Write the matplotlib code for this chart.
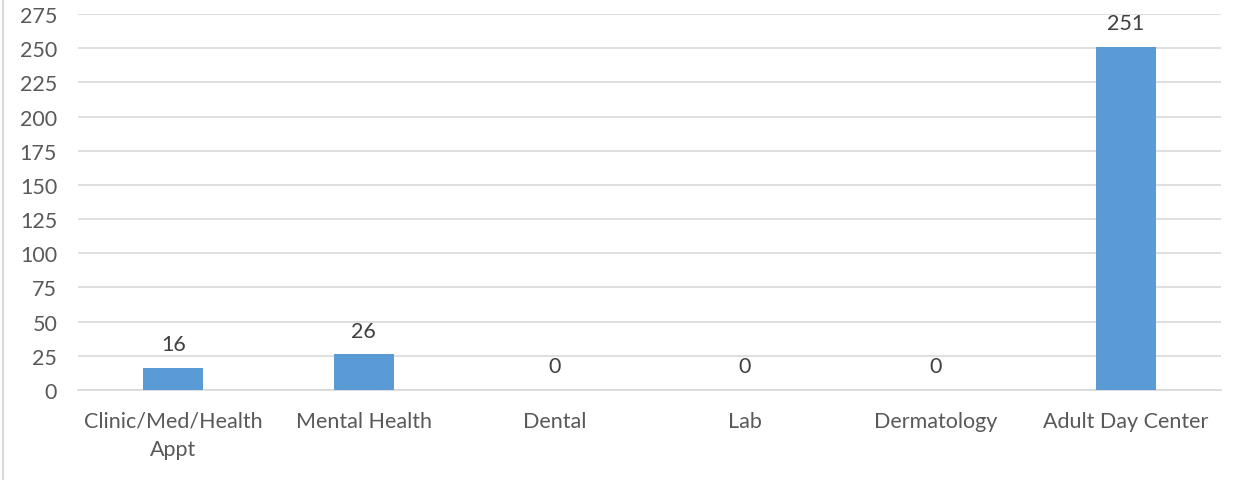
import matplotlib
matplotlib.use("Agg")
import matplotlib.pyplot as plt
import numpy as np
from matplotlib.lines import Line2D

# Data
categories = ["Clinic/Med/Health\nAppt", "Mental Health", "Dental", "Lab",
              "Dermatology", "Adult Day Center"]
values = [16, 26, 0, 0, 0, 251]
yticks = list(range(0, 276, 25))

plt.rcParams["font.family"] = ["Lato", "DejaVu Sans"]
text_color = "#595959"
grid_color = "#d9d9d9"
bar_color = "#5b9bd5"

W, H = 1247, 481
fig = plt.figure(figsize=(W / 100, H / 100), dpi=100)
ax = fig.add_axes([78 / W, 1 - 391 / H, (1221 - 78) / W, (391 - 15) / H])

x = np.arange(len(categories))
bars = ax.bar(x, values, width=0.315, color=bar_color, zorder=3)

for xi, v in zip(x, values):
    ax.annotate(str(v), (xi, v), textcoords="offset points", xytext=(0, 10),
                ha="center", va="bottom", fontsize=15.5, color="#404040")

ax.set_xlim(-0.5, len(categories) - 0.5)
ax.set_ylim(0, 275)
ax.set_yticks(yticks)
ax.set_xticks(x)
ax.set_xticklabels(categories, fontsize=15.5, color=text_color, linespacing=1.5)
ax.tick_params(axis="y", labelsize=15.5, labelcolor=text_color, length=0, pad=15)
ax.tick_params(axis="x", length=0, pad=15)

ax.grid(axis="y", color=grid_color, linewidth=1.2, zorder=0)
for s in ["top", "right", "left"]:
    ax.spines[s].set_visible(False)
ax.spines["bottom"].set_color(grid_color)
ax.spines["bottom"].set_linewidth(1.2)

# chart area border at left
fig.add_artist(Line2D([2.5 / W, 2.5 / W], [0, 1], color="#d9d9d9",
                      linewidth=1.5, transform=fig.transFigure))

fig.savefig("out.png", dpi=100)
